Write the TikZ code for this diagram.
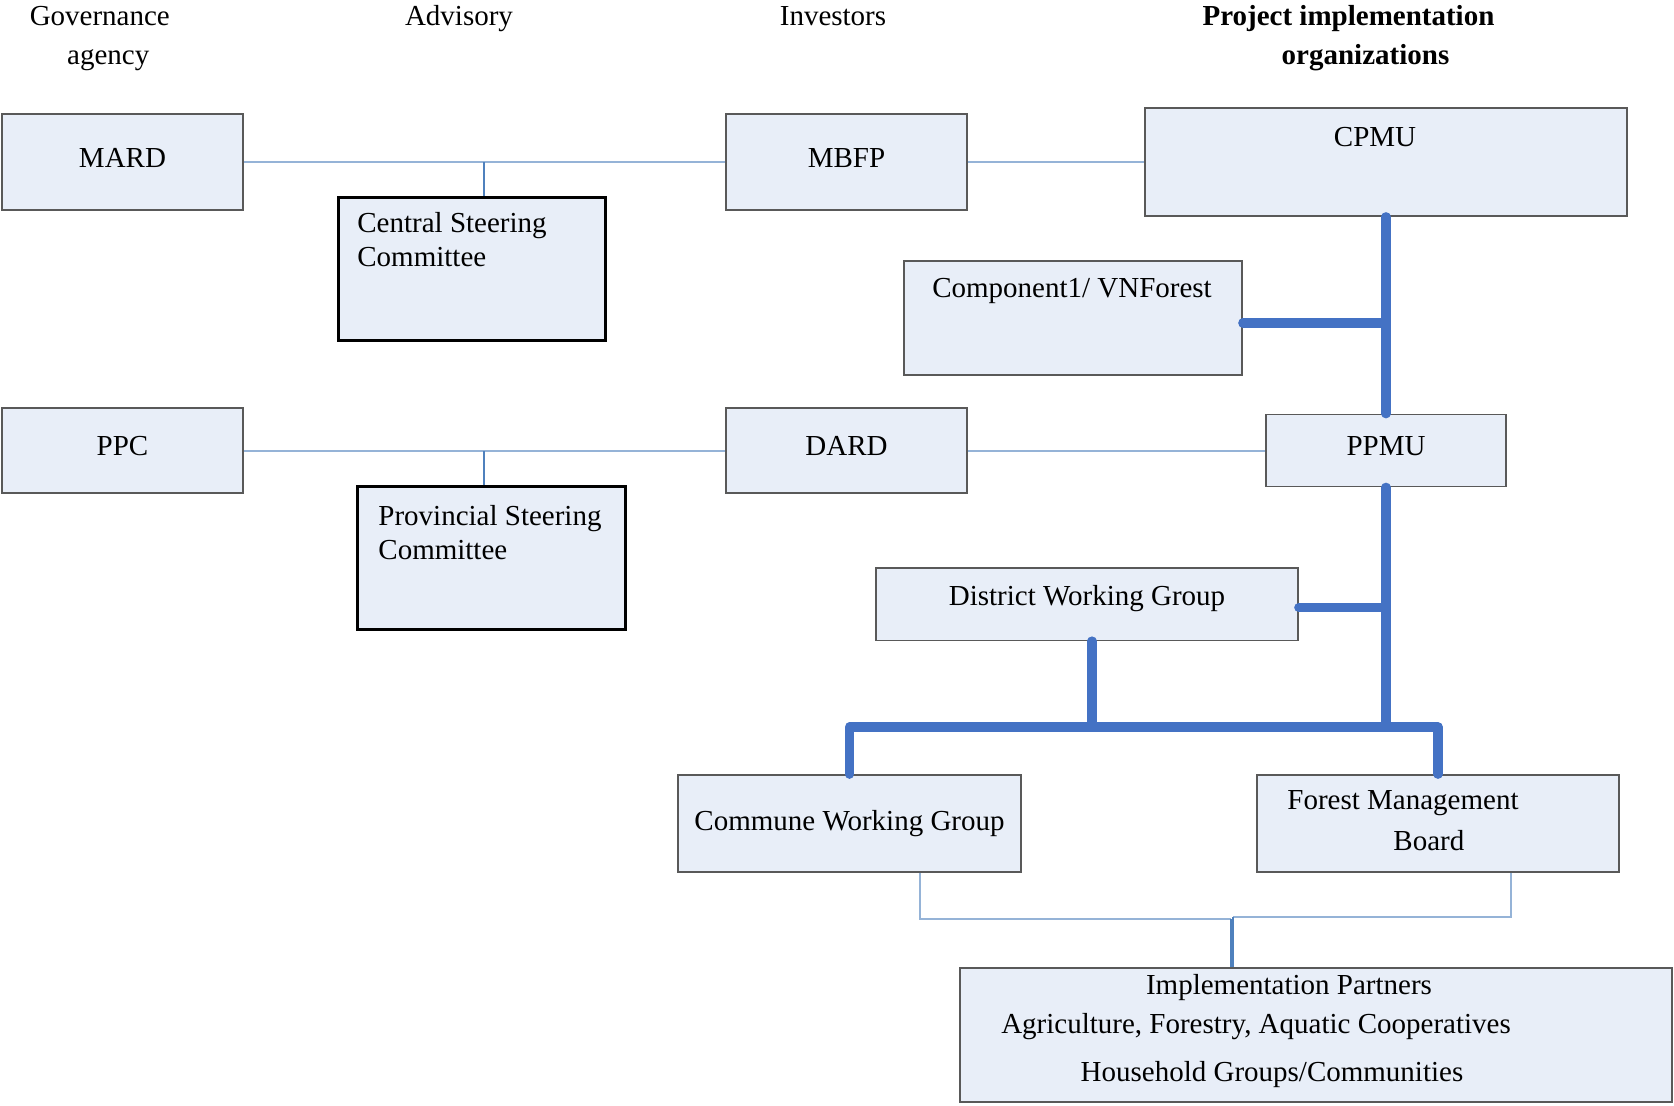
\documentclass[tikz,border=0pt]{standalone}
\usepackage{fontspec}
\setmainfont{Liberation Serif}
\usetikzlibrary{calc}
\definecolor{boxfill}{HTML}{E8EEF8}
\definecolor{boxline}{HTML}{595959}
\definecolor{linklight}{HTML}{95B3D7}
\definecolor{stemblue}{HTML}{4F81BD}
\definecolor{trunkblue}{HTML}{4472C4}

\begin{document}
\begin{tikzpicture}[x=0.5pt,y=-0.5pt,
    font=\fontsize{14.5}{17}\selectfont,
    box/.style={draw=boxline,line width=0.75pt,fill=boxfill,inner sep=0pt},
    cbox/.style={draw=black,line width=1.5pt,fill=boxfill,inner sep=0pt},
    lift/.style={text height=0.7em,text depth=0.18em},
    hdr/.style={align=center,font=\fontsize{14.5}{19.5}\selectfont},
    link/.style={draw=linklight,line width=1pt},
    stem/.style={draw=stemblue,line width=0.6pt},
    trunk/.style={draw=trunkblue,line width=4.6pt,line cap=round,line join=round}]
  \useasboundingbox (0,0) rectangle (1674,1105);
  % column heads
  \node[hdr] (hgov) at (103,39) {\hspace*{-3.2pt}Governance\\\hspace*{5.3pt}agency};
  \node[hdr] (hadv) at (459,19) {Advisory};
  \node[hdr] (hinv) at (833,16) {Investors};
  \node[hdr,font=\fontsize{14.5}{19.5}\selectfont\bfseries] (hpro) at (1357,38.5)
    {\hspace*{-8.5pt}Project implementation\\\hspace*{8.5pt}organizations};
  % boxes
  \node[box,lift,minimum width=120.5pt,minimum height=48pt] (mard) at (122.5,162) {MARD};
  \node[box,lift,minimum width=120.5pt,minimum height=48pt] (mbfp) at (846.5,162) {MBFP};
  \node[box,minimum width=241pt,minimum height=54pt] (cpmu) at (1386,162) {};
  \node[cbox,minimum width=133.5pt,minimum height=71.25pt] (csc) at (471.5,268.75) {};
  \node[box,minimum width=169pt,minimum height=57pt] (comp) at (1073,318) {};
  \node[box,lift,minimum width=120.5pt,minimum height=42.5pt] (ppc) at (122.5,450.5) {PPC};
  \node[box,lift,minimum width=120.5pt,minimum height=42.5pt] (dard) at (846.5,450.5) {DARD};
  \node[box,lift,minimum width=120pt,minimum height=36pt] (ppmu) at (1386,450.5) {PPMU};
  \node[cbox,minimum width=134pt,minimum height=71.5pt] (psc) at (491,557.5) {};
  \node[box,lift,text depth=0.55em,minimum width=211pt,minimum height=36.25pt] (dwg) at (1087,604) {District Working Group};
  \node[box,minimum width=171.5pt,minimum height=48.5pt] (cwg) at (849.5,823.5) {Commune Working Group};
  \node[box,minimum width=181pt,minimum height=48.5pt] (fmb) at (1438,823.5) {};
  \node[box,minimum width=356pt,minimum height=67pt] (imp) at (1316,1035) {};
  % texts set off the box centre
  \node (cpmut) at (1375,137) {CPMU};
  \node (compt) at (1072,291) {Component1/ VNForest};
  \node[anchor=west,align=left,inner sep=0pt] (csct) at (357,240) {Central Steering\\Committee};
  \node[anchor=west,align=left,inner sep=0pt] (psct) at (378,533) {Provincial Steering\\Committee};
  \node[align=left,font=\fontsize{14.5}{20.5}\selectfont] (fmbt) at (1403,821) {Forest Management\\\hspace*{53pt}Board};
  \node[align=center] (impt) at (1289,1031) {Implementation Partners\\[2.5pt]
    \hspace*{-33pt}Agriculture, Forestry, Aquatic Cooperatives\\[7pt]\hspace*{-17pt}Household Groups/Communities};
  % advisory links
  \coordinate (cscj) at (484,162);
  \coordinate (pscj) at (484,451);
  \draw[link] (mard) -- (mbfp);
  \draw[link] (mbfp) -- (cpmu);
  \draw[link] (ppc) -- (dard);
  \draw[link] (dard) -- (ppmu);
  \draw[stem] (cscj) -- (cscj |- csc.north);
  \draw[stem] (pscj) -- (pscj |- psc.north);
  % project tree
  \coordinate (bus) at (1000,727);
  \draw[trunk] (cpmu.south) -- (ppmu.north);
  \draw[trunk] ([yshift=-2.5pt]comp.east) -- ([yshift=-2.5pt]comp.east -| cpmu.south);
  \draw[trunk] (ppmu.south) -- (ppmu.south |- bus);
  \draw[trunk] ([yshift=-1.75pt]dwg.east) -- ([yshift=-1.75pt]dwg.east -| ppmu.south);
  \draw[trunk] ([xshift=2.5pt]dwg.south) -- ([xshift=2.5pt]dwg.south |- bus);
  \draw[trunk] (cwg.north) -- (cwg.north |- bus) -- (fmb.north |- bus) -- (fmb.north);
  % partners
  \coordinate (impj) at (1231,919);
  \coordinate (impk) at (1233,916.5);
  \draw[link] ([xshift=35.25pt]cwg.south) |- (impj);
  \draw[link] ([xshift=36.5pt]fmb.south) |- (impk);
  \draw[stem] (impj) -- (impj |- imp.north);
  \draw[stem] (impk) -- (impk |- imp.north);
\end{tikzpicture}
\end{document}
